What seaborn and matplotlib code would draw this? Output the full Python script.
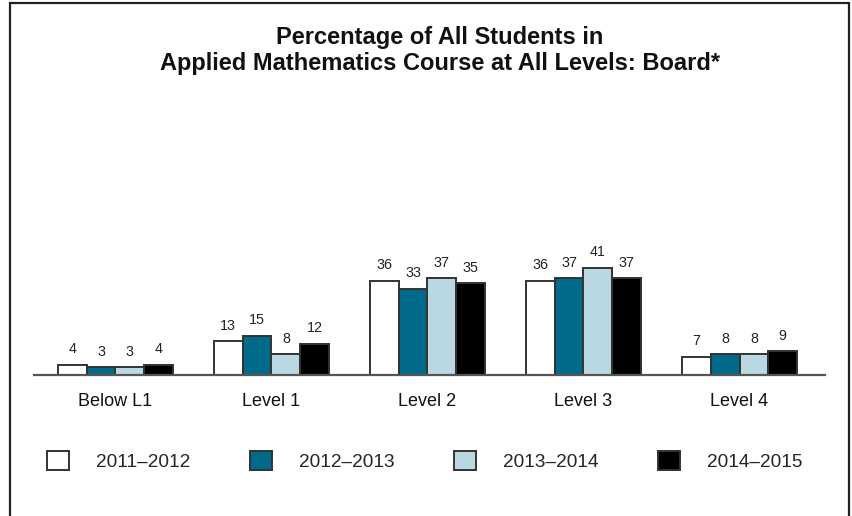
import matplotlib
matplotlib.use("Agg")
import matplotlib.pyplot as plt
import seaborn as sns
import pandas as pd
from matplotlib.patches import Rectangle

# Achievement levels and school years
levels = ["Below L1", "Level 1", "Level 2", "Level 3", "Level 4"]
years = ["2011\u20132012", "2012\u20132013", "2013\u20132014", "2014\u20132015"]

# Percentage of students at each level, one list per school year
pct_2011_2012 = [4, 13, 36, 36, 7]
pct_2012_2013 = [3, 15, 33, 37, 8]
pct_2013_2014 = [3, 8, 37, 41, 8]
pct_2014_2015 = [4, 12, 35, 37, 9]

year_colors = ["#ffffff", "#006a8a", "#b9d8e2", "#000000"]

series = [pct_2011_2012, pct_2012_2013, pct_2013_2014, pct_2014_2015]
df = pd.DataFrame(
    [(lvl, yr, v) for yr, vals in zip(years, series) for lvl, v in zip(levels, vals)],
    columns=["level", "year", "pct"],
)

sns.set_theme(style="white")
plt.rcParams["font.family"] = ["Liberation Sans", "DejaVu Sans"]

W, H = 852, 516
fig = plt.figure(figsize=(W / 100, H / 100), dpi=100)
ax = fig.add_axes([34 / W, 1 - 375 / H, (825 - 34) / W, (375 - 100) / H])

sns.barplot(
    data=df, x="level", y="pct", hue="year", order=levels, hue_order=years,
    palette=year_colors, width=0.74, edgecolor="#333333", linewidth=1.4,
    saturation=1, legend=True, ax=ax, errorbar=None,
)

for cont in ax.containers:
    ax.bar_label(cont, fmt="%d", padding=6, fontsize=10.3, color="#222222")

ax.set_xlim(-0.522, 4.548)
ax.set_ylim(0, 105)
ax.set_xlabel("")
ax.set_ylabel("")
ax.set_yticks([])
ax.tick_params(axis="x", length=0, pad=13, labelsize=13, colors="#111111")
for side in ["top", "left", "right"]:
    ax.spines[side].set_visible(False)
ax.spines["bottom"].set_color("#555555")
ax.spines["bottom"].set_linewidth(1.6)

handles, labels = ax.get_legend_handles_labels()
ax.legend_.remove()
fig.legend(
    handles, labels, ncol=4, loc="center left",
    bbox_to_anchor=(47 / W, 1 - 461 / H), frameon=False,
    fontsize=13.7, handlelength=1.15, handleheight=1.15,
    handletextpad=1.45, columnspacing=3.1, borderpad=0, borderaxespad=0,
)

fig.text(
    440 / W, 1 - 50.5 / H,
    "Percentage of All Students in\nApplied Mathematics Course at All Levels: Board*",
    ha="center", va="center", fontsize=17, fontweight="bold",
    linespacing=1.18, color="#111111",
)

# Outer frame, open at the bottom
fig.add_artist(Rectangle((10 / W, -0.05), (849 - 10) / W, 1.05 - 3 / H,
                         transform=fig.transFigure, fill=False,
                         edgecolor="#222222", linewidth=1.6))

fig.savefig("out.png", dpi=100, facecolor="white")
